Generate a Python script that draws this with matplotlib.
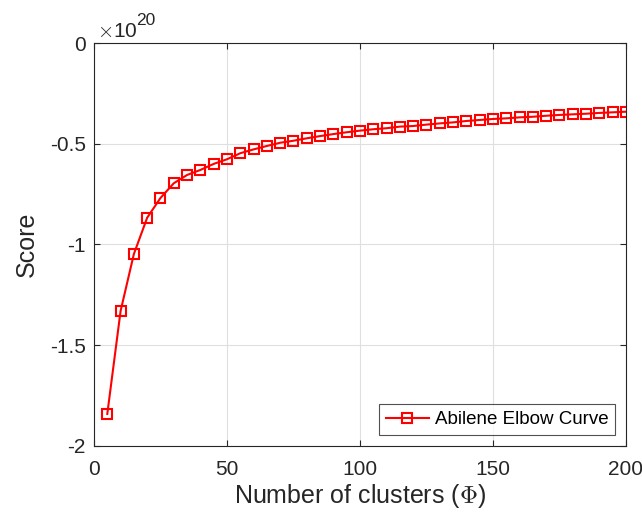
import numpy as np
import matplotlib.pyplot as plt
from matplotlib.transforms import offset_copy

plt.rcParams['font.family'] = ['Liberation Sans', 'DejaVu Sans']
plt.rcParams['mathtext.fontset'] = 'cm'

# number of clusters and elbow score (in units of 1e20)
clusters = list(range(5, 205, 5))
score_e20 = [-1.841, -1.330, -1.047, -0.867, -0.769, -0.696, -0.655, -0.630,
             -0.600, -0.577, -0.547, -0.528, -0.511, -0.495, -0.485, -0.473,
             -0.462, -0.452, -0.443, -0.435, -0.428, -0.423, -0.415, -0.412,
             -0.405, -0.399, -0.394, -0.387, -0.382, -0.377, -0.374, -0.369,
             -0.366, -0.361, -0.357, -0.354, -0.351, -0.347, -0.344, -0.341]
xticks = [0, 50, 100, 150, 200]
yticks = [-2, -1.5, -1, -0.5, 0]
ytick_labels = ['-2', '-1.5', '-1', '-0.5', '0']

axc = '#262626'
fig = plt.figure(figsize=(6.42, 5.15), dpi=100)
ax = fig.add_axes([0.1464, 0.134, 0.8286, 0.7825])

ax.plot(clusters, score_e20, color='red', lw=1.5, marker='s', ms=7,
        mfc='none', mec='red', mew=1.5, label='Abilene Elbow Curve')

ax.set_xlim(0, 200)
ax.set_ylim(-2, 0)
ax.set_xticks(xticks)
ax.set_xticklabels([str(t) for t in xticks])
ax.set_yticks(yticks)
ax.set_yticklabels(ytick_labels)
ax.grid(True, color='#dfdfdf', lw=0.8)
ax.set_axisbelow(True)
ax.tick_params(direction='in', top=True, right=True, length=4, width=0.8,
               colors=axc, labelsize=15, labelcolor=axc)
ax.tick_params(axis='x', pad=10)
ax.tick_params(axis='y', pad=6)
for s in ax.spines.values():
    s.set_color(axc)
    s.set_linewidth(0.8)

ax.set_xlabel(r'Number of clusters ($\Phi$)', fontsize=18, color=axc,
              labelpad=2)
ax.set_ylabel('Score', fontsize=18, color=axc, labelpad=8)

# exponent label above the axes, MATLAB style
base_tr = offset_copy(ax.transAxes, fig=fig, x=3, y=6.5, units='dots')
exp_tr = offset_copy(ax.transAxes, fig=fig, x=42, y=18, units='dots')
ax.text(0, 1, r'$\times$' + '10', transform=base_tr, fontsize=15,
        color=axc, ha='left', va='baseline')
ax.text(0, 1, '20', transform=exp_tr, fontsize=12.5, color=axc,
        ha='left', va='baseline')

leg = ax.legend(loc='lower right', fontsize=13.5, frameon=True, fancybox=False,
                edgecolor=axc, borderaxespad=0.6, borderpad=0.35,
                handlelength=2.3, handletextpad=0.3)
leg.get_frame().set_linewidth(0.8)

fig.savefig('out.png', dpi=100)
